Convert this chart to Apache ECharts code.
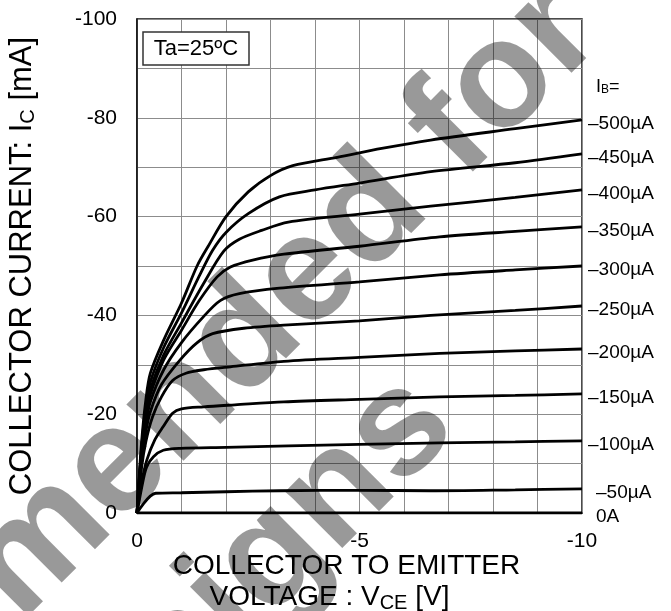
<!DOCTYPE html>
<html>
<head>
<meta charset="utf-8">
<script src="https://cdn.jsdelivr.net/npm/echarts@6/dist/echarts.min.js"></script>
<style>
html, body { margin: 0; padding: 0; background: #fff; }
#main { width: 671px; height: 611px; }
</style>
</head>
<body>
<div id="main"></div>
<script>
// IC-VCE curves, [VCE (V), IC (mA)]
var ib0 = [[0, 0], [-10, 0]];
var ib50 = [[0, 0], [-0.42, -4.0], [-1, -4.1], [-2, -4.3], [-3.2, -4.5], [-5, -4.6], [-6.6, -4.5], [-8.5, -4.7], [-10, -4.9]];
var ib100 = [[0, 0], [-0.14, -6.7], [-0.22, -9.4], [-0.37, -11.4], [-0.59, -12.7], [-0.97, -13.1], [-2, -13.3], [-3.4, -13.6], [-5, -13.9], [-6.8, -14.2], [-8.5, -14.4], [-10, -14.6]];
var ib150 = [[0, 0], [-0.1, -6], [-0.22, -10.7], [-0.4, -14.8], [-0.59, -17.5], [-0.8, -20.2], [-1.0, -21.1], [-1.5, -21.5], [-2.2, -21.9], [-3.3, -22.5], [-5, -23], [-6.8, -23.5], [-8.5, -23.8], [-10, -24.1]];
var ib200 = [[0, 0], [-0.1, -9], [-0.2, -14.5], [-0.35, -19.5], [-0.55, -23.5], [-0.8, -26.8], [-1.1, -28.3], [-1.5, -29], [-2.1, -29.6], [-3.3, -30.7], [-5, -31.5], [-6.8, -32.3], [-8.5, -32.8], [-10, -33.2]];
var ib250 = [[0, 0], [-0.1, -10], [-0.2, -16.5], [-0.3, -20.5], [-0.55, -26], [-0.97, -31], [-1.34, -34.4], [-1.7, -36.3], [-2.4, -37.4], [-3.4, -38.1], [-5, -38.9], [-6.6, -40], [-8.5, -41], [-10, -41.9]];
var ib300 = [[0, 0], [-0.1, -11], [-0.2, -18], [-0.3, -22.5], [-0.6, -29], [-1.0, -34.5], [-1.49, -39.7], [-1.87, -43], [-2.3, -44.4], [-3.2, -45.5], [-5, -46.8], [-6.8, -48.2], [-8.5, -49.2], [-10, -50]];
var ib350 = [[0, 0], [-0.1, -12], [-0.2, -19.5], [-0.3, -24], [-0.6, -31], [-1.0, -37], [-1.4, -43], [-1.8, -47.8], [-2.1, -49.8], [-2.6, -51.2], [-3.3, -52.4], [-5, -54], [-6.8, -55.9], [-8.5, -57], [-10, -57.9]];
var ib400 = [[0, 0], [-0.1, -12.5], [-0.2, -20.5], [-0.3, -25], [-0.6, -32], [-1.0, -38.5], [-1.5, -46.5], [-1.95, -53], [-2.3, -55.4], [-2.8, -57.2], [-3.4, -58.9], [-5, -60.5], [-6.6, -62.1], [-8.5, -63.9], [-10, -65.4]];
var ib450 = [[0, 0], [-0.1, -13], [-0.2, -21.5], [-0.3, -26.5], [-0.6, -33.5], [-1.0, -40.5], [-1.4, -48], [-1.7, -53.2], [-2.0, -56.8], [-2.5, -60.6], [-3.2, -64], [-4, -65.4], [-5, -66.8], [-6.6, -69.1], [-8.5, -70.9], [-10, -72.7]];
var ib500 = [[0, 0], [-0.1, -14], [-0.2, -23], [-0.3, -28.3], [-0.6, -35], [-1.0, -42.5], [-1.35, -50], [-1.6, -54], [-2.0, -60], [-2.5, -65], [-3.0, -68.3], [-3.5, -70.3], [-4.5, -72], [-5.5, -73.8], [-6.6, -75.5], [-8.5, -77.8], [-10, -79.6]];

var curves = [ib0, ib50, ib100, ib150, ib200, ib250, ib300, ib350, ib400, ib450, ib500];
var ibLabels = ['0A', '\u201350\u00b5A', '\u2013100\u00b5A', '\u2013150\u00b5A', '\u2013200\u00b5A', '\u2013250\u00b5A',
	'\u2013300\u00b5A', '\u2013350\u00b5A', '\u2013400\u00b5A', '\u2013450\u00b5A', '\u2013500\u00b5A'];

var font = '"Liberation Sans", Arial, sans-serif';

var myChart = echarts.init(document.getElementById('main'));

var series = curves.map(function (d, i) {
	// label only on the last point (right end of the curve)
	var data = d.map(function (p, k) {
		if (k < d.length - 1) return p;
		return {
			value: p,
			label: {
				show: true,
				position: 'right',
				formatter: ibLabels[i],
				color: '#000',
				fontFamily: font,
				fontSize: 19,
				distance: i < 2 ? 14 : 6,
				offset: [0, 4]
			}
		};
	});
	return {
		type: 'line',
		data: data,
		showSymbol: true,
		symbol: 'circle',
		symbolSize: 0,
		smooth: 0.3,
		silent: true,
		z: 3,
		label: { show: false },
		lineStyle: { color: '#000', width: 2.8 }
	};
});

var option = {
	backgroundColor: '#fff',
	animation: false,
	textStyle: { fontFamily: font },
	grid: {
		left: 137, top: 19, width: 445, height: 494,
		outerBoundsMode: 'none',
		show: true, borderColor: '#111', borderWidth: 1.5, backgroundColor: 'transparent'
	},
	xAxis: {
		type: 'value', min: -10, max: 0, interval: 1, inverse: true,
		axisLine: { show: true, onZero: false, lineStyle: { color: '#111', width: 1.5 } },
		axisTick: { show: false },
		splitLine: { show: true, lineStyle: { color: '#8c8c8c', width: 1 } },
		axisLabel: {
			color: '#000', fontSize: 21, fontFamily: font, margin: 18,
			formatter: function (v) { return v % 5 === 0 ? String(v) : ''; }
		},
		name: 'COLLECTOR TO EMITTER\nVOLTAGE : V{sub|CE} [V]{gap|}',
		nameLocation: 'middle',
		nameGap: 38,
		nameMoveOverlap: false,
		nameTextStyle: {
			color: '#000', fontSize: 28, fontFamily: font, lineHeight: 31,
			padding: [0, 26, 0, 0],
			rich: {
				sub: { fontSize: 20, fontFamily: font, color: '#000', verticalAlign: 'bottom' },
				gap: { width: 34 }
			}
		}
	},
	yAxis: {
		type: 'value', min: -100, max: 0, interval: 10, inverse: true,
		axisLine: { show: true, onZero: false, lineStyle: { color: '#111', width: 1.5 } },
		axisTick: { show: false },
		splitLine: { show: true, lineStyle: { color: '#8c8c8c', width: 1 } },
		axisLabel: {
			color: '#000', fontSize: 21, fontFamily: font, margin: 20,
			formatter: function (v) { return v % 20 === 0 ? String(v) : ''; }
		},
		name: 'COLLECTOR CURRENT: I{sub|C} [mA]',
		nameLocation: 'middle',
		nameRotate: 90,
		nameGap: 99,
		nameMoveOverlap: false,
		nameTextStyle: {
			color: '#000', fontSize: 31, fontFamily: font,
			rich: { sub: { fontSize: 20, fontFamily: font, color: '#000', verticalAlign: 'bottom' } }
		}
	},
	graphic: [
		{
			type: 'rect', z: 10,
			shape: { x: 143, y: 32, width: 106, height: 33 },
			style: { fill: '#fff', stroke: '#333', lineWidth: 1.5 }
		},
		{
			type: 'text', z: 11, x: 196, y: 49,
			style: { text: 'Ta=25\u00baC', font: '22px ' + font, fill: '#000', textAlign: 'center', textVerticalAlign: 'middle' }
		},
		{
			type: 'text', z: 11, x: 596, y: 87,
			style: {
				text: 'I{sub|B}=', font: '18px ' + font, fill: '#000', textVerticalAlign: 'middle',
				rich: { sub: { fontSize: 12, fontFamily: font, fill: '#000', verticalAlign: 'bottom' } }
			}
		},
		// watermark
		{
			type: 'text', z: 100, silent: true, x: 0, y: 585, rotation: Math.PI / 4,
			style: { text: 'Not Recommended for', font: 'bold 152px ' + font, fill: 'rgba(0,0,0,0.4)', textAlign: 'center', textVerticalAlign: 'middle' }
		},
		{
			type: 'text', z: 100, silent: true, x: 96, y: 735, rotation: Math.PI / 4,
			style: { text: 'New Designs', font: 'bold 152px ' + font, fill: 'rgba(0,0,0,0.4)', textAlign: 'center', textVerticalAlign: 'middle' }
		}
	],
	series: series
};

myChart.setOption(option);
</script>
</body>
</html>
